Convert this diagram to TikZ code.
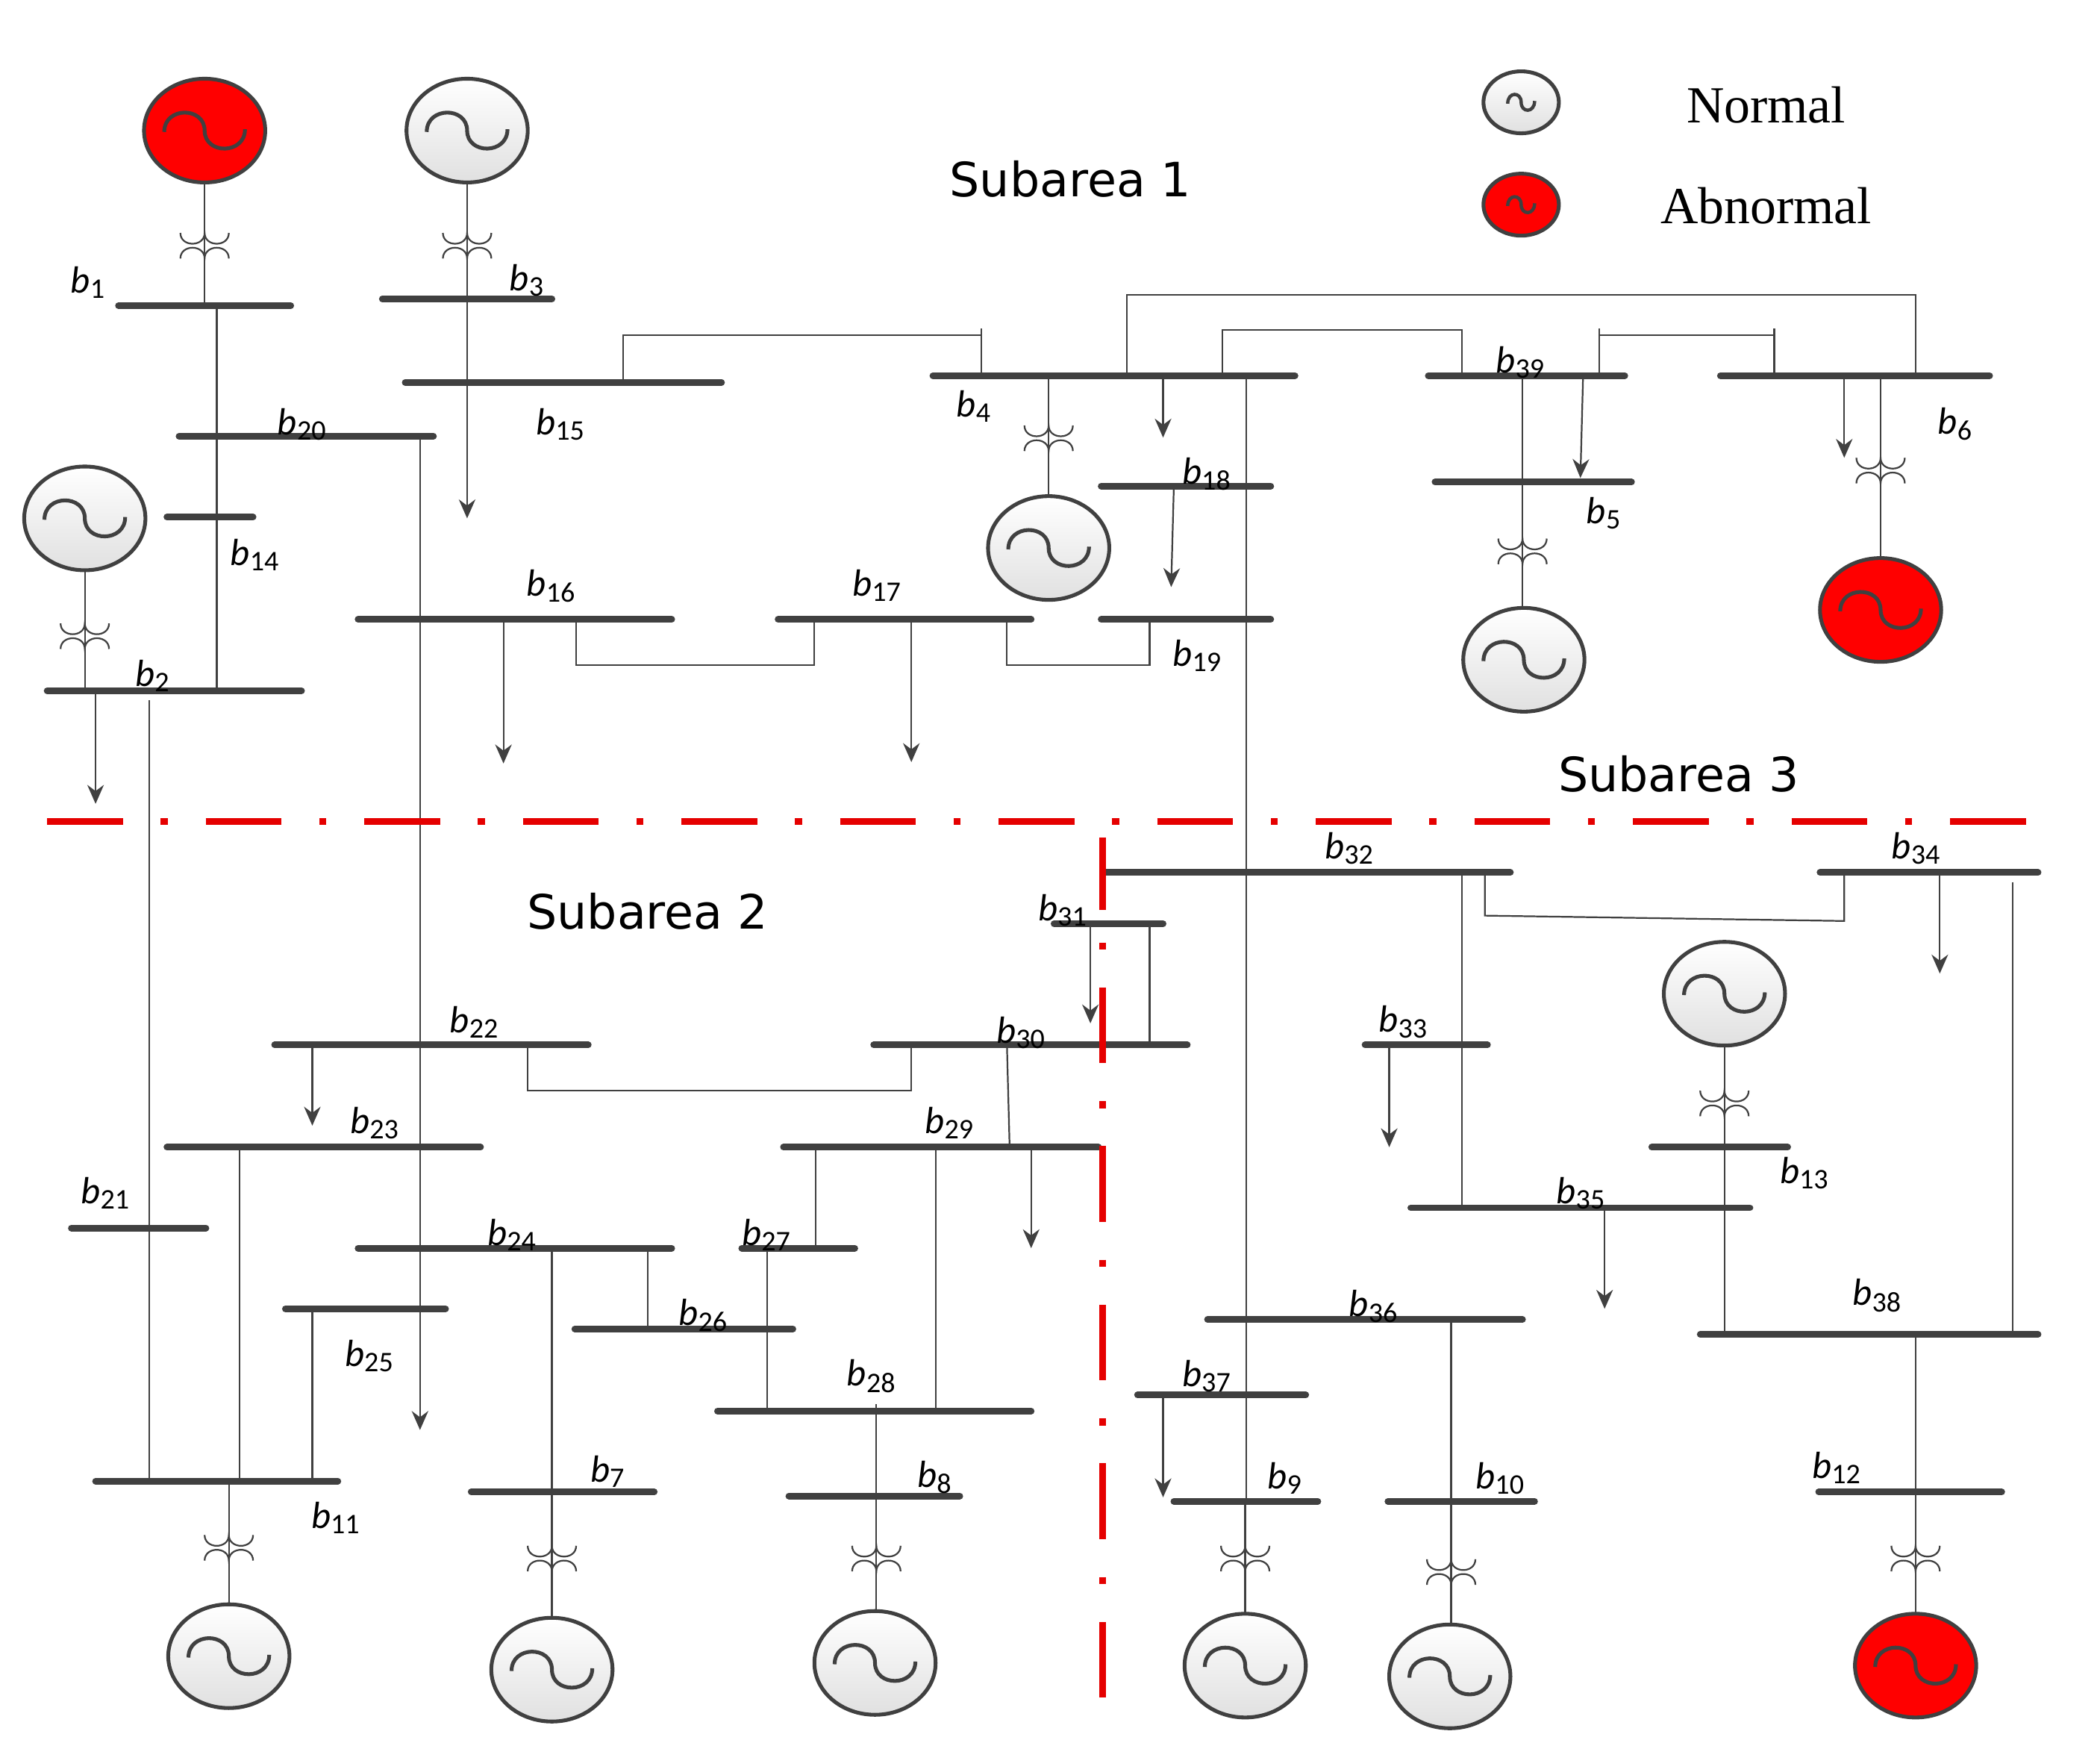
\documentclass[tikz,border=0pt]{standalone}
\usepackage{fontspec}
\setmainfont{Carlito}
\newfontfamily\subf{DejaVu Sans}
\newfontfamily\legf{Liberation Serif}
\usetikzlibrary{shapes.geometric,arrows.meta}
\tikzset{x=0.01cm,y=-0.01cm,
 bus/.style={line width=1.4pt,draw=black!75,line cap=round},
 ln/.style={line width=0.35pt,draw=black!75},
 load/.style={line width=0.35pt,draw=black!75,-{Stealth[length=4pt,width=3.5pt]}},
 gen/.style={ellipse,draw=black!75,line width=0.8pt,minimum width=0.9cm,minimum height=0.77cm,inner sep=0pt},
 nrm/.style={top color=white,bottom color=black!12},
 abn/.style={fill=red},
 lab/.style={font=\fontsize{8}{9}\selectfont,inner sep=0pt},
 red/.style={draw=red!90!black,line width=1.5pt},
}
\newcommand\gsine[2]{\draw[line width=0.8pt,black!75] (#1-30,#2+1) .. controls (#1-30,#2-18) and (#1,#2-18) .. (#1,#2) .. controls (#1,#2+18) and (#1+30,#2+18) .. (#1+30,#2-1);}
\newcommand\gen[5]{\node[gen,#4] (#1) at (#2,#3) {}; \gsine{#2}{#3}}
\newcommand\tra[2]{\draw[ln] (#1-18,#2-10) .. controls (#1-18,#2+0.7) and (#1,#2+0.7) .. (#1,#2-10) .. controls (#1,#2+0.7) and (#1+18,#2+0.7) .. (#1+18,#2-10);
\draw[ln] (#1-18,#2+9) .. controls (#1-18,#2-1.7) and (#1,#2-1.7) .. (#1,#2+9) .. controls (#1,#2-1.7) and (#1+18,#2-1.7) .. (#1+18,#2+9);}
\newcommand\bl[3]{\node[lab] at (#1,#2) {\textit{b}\textsubscript{#3}};}
\newcommand\gl[3]{\node[lab] at (#1,#2) {\textit{G}\textsubscript{#3}};}
\newcommand\bus[3]{\draw[bus] (#1,#3)--(#2,#3);}
\begin{document}
\begin{tikzpicture}
\useasboundingbox (0,0) rectangle (1560,1292);
% ---- thin lines
\draw[ln] (152,135)--(152,227); \tra{152}{183}
\draw[ln] (161,227)--(161,513);
\draw[load] (312,324)--(312,1062);
\draw[ln] (463,284)--(463,249)--(729,249)--(729,279); \draw[ln] (729,244)--(729,254);
\draw[ln] (347,135)--(347,222); \tra{347}{183}
\draw[load] (347,222)--(347,385);
\draw[ln] (63,423)--(63,513); \tra{63}{473}
\draw[load] (71,513)--(71,597);
\draw[ln] (111,520)--(111,1100);
\draw[load] (374,460)--(374,567);
\draw[ln] (428,460)--(428,494)--(605,494)--(605,460);
\draw[load] (677,460)--(677,566);
\draw[ln] (748,460)--(748,494)--(854,494)--(854,460);
\draw[load] (872,361)--(870,436);
\draw[load] (864,279)--(864,325);
\draw[ln] (779,279)--(779,369); \tra{779}{326}
\draw[ln] (926,279)--(926,1115);
\draw[ln] (837,279)--(837,219)--(1423,219)--(1423,279);
\draw[ln] (908,279)--(908,245)--(1086,245)--(1086,279);
\draw[ln] (1188,279)--(1188,249)--(1318,249)--(1318,279); \draw[ln] (1188,244)--(1188,254); \draw[ln] (1318,244)--(1318,254);
\draw[load] (1176,279)--(1174,355);
\draw[ln] (1131,279)--(1131,452); \tra{1131}{410}
\draw[load] (1370,279)--(1370,340);
\draw[ln] (1397,279)--(1397,415); \tra{1397}{350}
\draw[ln] (1086,648)--(1086,897);
\draw[ln] (1103,648)--(1103,680)--(1370,684)--(1370,648);
\draw[load] (1441,648)--(1441,723);
\draw[ln] (1495,655)--(1495,991);
\draw[load] (810,686)--(810,760);
\draw[ln] (854,686)--(854,776);
\draw[load] (232,776)--(232,836);
\draw[ln] (392,776)--(392,810)--(677,810)--(677,776);
\draw[ln] (748,776)--(750,852);
\draw[ln] (178,852)--(178,1100);
\draw[ln] (606,852)--(606,927);
\draw[load] (766,852)--(766,927);
\draw[ln] (695,852)--(695,1048);
\draw[ln] (410,927)--(410,1200); \tra{410}{1158}
\draw[ln] (481,927)--(481,987);
\draw[ln] (570,927)--(570,1048);
\draw[ln] (232,972)--(232,1100);
\draw[ln] (651,1043)--(651,1197); \tra{651}{1158}
\draw[ln] (170,1100)--(170,1192); \tra{170}{1150}
\draw[load] (1032,776)--(1032,852);
\draw[ln] (1281,776)--(1281,991); \tra{1281}{820}
\draw[load] (1192,897)--(1192,972);
\draw[ln] (1078,980)--(1078,1207); \tra{1078}{1168}
\draw[load] (864,1036)--(864,1112);
\draw[ln] (925,1115)--(925,1199); \tra{925}{1158}
\draw[ln] (1423,991)--(1423,1199); \tra{1423}{1158}
% ---- buses
\bus{88}{216}{227} \bl{66}{210}{1}
\bus{284}{410}{222} \bl{392}{208}{3}
\bus{301}{536}{284} \bl{417}{315}{15}
\bus{133}{322}{324} \bl{225}{315}{20}
\bus{124}{188}{384} \bl{190}{412}{14}
\bus{35}{224}{513} \bl{114}{502}{2}
\bus{266}{499}{460} \bl{410}{435}{16}
\bus{578}{766}{460} \bl{652}{435}{17}
\bus{693}{962}{279} \bl{724}{302}{4}
\bus{818}{944}{361} \bl{897}{352}{18}
\bus{818}{944}{460} \bl{890}{487}{19}
\bus{1061}{1207}{279} \bl{1130}{269}{39}
\bus{1066}{1212}{358} \bl{1192}{381}{5}
\bus{1278}{1478}{279} \bl{1453}{315}{6}
\bus{820}{1122}{648} \bl{1003}{630}{32}
\bus{1352}{1514}{648} \bl{1424}{630}{34}
\bus{783}{864}{686} \bl{790}{676}{31}
\bus{204}{437}{776} \bl{353}{759}{22}
\bus{649}{882}{776} \bl{759}{767}{30}
\bus{124}{357}{852} \bl{279}{834}{23}
\bus{582}{816}{852} \bl{706}{834}{29}
\bus{53}{153}{912} \bl{79}{886}{21}
\bus{266}{499}{927} \bl{381}{917}{24}
\bus{551}{635}{927} \bl{570}{917}{27}
\bus{427}{589}{987} \bl{523}{977}{26}
\bus{212}{331}{972} \bl{275}{1007}{25}
\bus{533}{766}{1048} \bl{648}{1022}{28}
\bus{71}{251}{1100} \bl{250}{1127}{11}
\bus{350}{486}{1108} \bl{452}{1093}{7}
\bus{586}{713}{1111} \bl{695}{1097}{8}
\bus{1014}{1105}{776} \bl{1043}{759}{33}
\bus{1227}{1328}{852} \bl{1341}{871}{13}
\bus{1048}{1300}{897} \bl{1175}{886}{35}
\bus{897}{1131}{980} \bl{1021}{970}{36}
\bus{1263}{1514}{991} \bl{1395}{962}{38}
\bus{845}{970}{1036} \bl{897}{1022}{37}
\bus{872}{979}{1115} \bl{955}{1098}{9}
\bus{1031}{1140}{1115} \bl{1115}{1098}{10}
\bus{1351}{1487}{1108} \bl{1365}{1090}{12}
% ---- generators
\gen{G1}{152}{97}{abn} \gl{153}{28}{1}
\gen{G3}{347}{97}{nrm} \gl{352}{36}{3}
\gen{G2}{63}{385}{nrm} \gl{60}{318}{2}
\gen{G4}{779}{407}{nrm} \gl{695}{382}{4}
\gen{G5}{1132}{490}{nrm} \gl{1240}{502}{5}
\gen{G6}{1397}{453}{abn} \gl{1470}{495}{6}
\gen{G7}{170}{1230}{nrm} \gl{262}{1233}{7}
\gen{G8}{410}{1240}{nrm} \gl{500}{1244}{8}
\gen{G9}{650}{1235}{nrm} \gl{748}{1233}{9}
\gen{G10}{925}{1237}{nrm} \gl{997}{1208}{10}
\gen{G11}{1077}{1245}{nrm} \gl{1187}{1241}{11}
\gen{G13}{1281}{738}{nrm} \gl{1382}{767}{13}
\gen{G12}{1423}{1237}{abn} \gl{1537}{1248}{12}
% ---- legend
\node[gen,nrm,minimum width=0.56cm,minimum height=0.46cm] (ln) at (1130,76) {};
\draw[line width=0.7pt,black!75] (1120,77) .. controls (1120,68) and (1130,68) .. (1130,76) .. controls (1130,84) and (1140,84) .. (1140,75);
\node[gen,abn,minimum width=0.56cm,minimum height=0.46cm] (la) at (1130,152) {};
\draw[line width=0.7pt,black!75] (1120,153) .. controls (1120,144) and (1130,144) .. (1130,152) .. controls (1130,160) and (1140,160) .. (1140,151);
\node[font=\legf\fontsize{11}{12}\selectfont] at (1312,78) {Normal};
\node[font=\legf\fontsize{11}{12}\selectfont] at (1312,153) {Abnormal};
% ---- subareas
\node[font=\subf\fontsize{10}{12}\selectfont] at (795,133) {Subarea 1};
\node[font=\subf\fontsize{10}{12}\selectfont] at (1247,575) {Subarea 3};
\node[font=\subf\fontsize{10}{12}\selectfont] at (481,677) {Subarea 2};
\draw[red,dash pattern=on 16pt off 8pt on 1.5pt off 8pt] (35,610)--(1530,610);
\draw[red] (819,622)--(819,676);
\draw[red,dash pattern=on 1.5pt off 8pt on 16pt off 8pt] (819,700)--(819,1278);
\end{tikzpicture}
\end{document}
